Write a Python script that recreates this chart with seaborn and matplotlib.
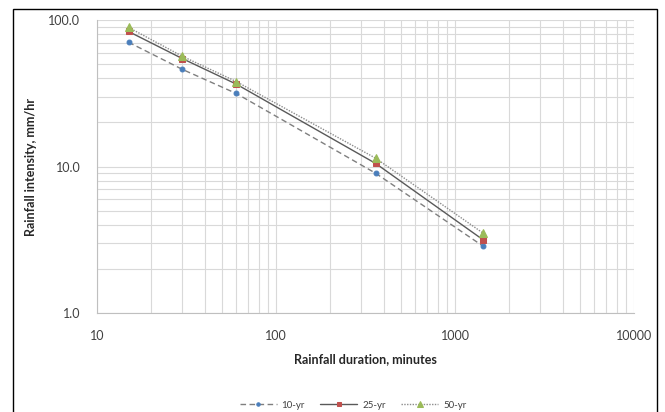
import matplotlib
matplotlib.use("Agg")
import matplotlib.pyplot as plt
from matplotlib.patches import Rectangle
from matplotlib.ticker import FixedLocator, LogLocator, NullFormatter, FuncFormatter
import seaborn as sns
import pandas as pd

durations = [15, 30, 60, 360, 1440]
i10 = [70.5, 46.0, 31.5, 9.0, 2.85]
i25 = [83.5, 54.5, 36.5, 10.5, 3.15]
i50 = [89.0, 56.5, 38.0, 11.4, 3.5]
series_names = ["10-yr", "25-yr", "50-yr"]

sns.set_style("white")
plt.rcParams['font.family'] = ['Lato', 'DejaVu Sans']

fig = plt.figure(figsize=(6.65, 4.12), dpi=100)
ax = fig.add_axes([97/665, 1-313/412, (634-97)/665, (313-20)/412])

df10 = pd.DataFrame({"x": durations, "y": i10})
df25 = pd.DataFrame({"x": durations, "y": i25})
df50 = pd.DataFrame({"x": durations, "y": i50})

sns.lineplot(data=df10, x="x", y="y", ax=ax, color="#7f7f7f", lw=1.0,
             linestyle=(0, (4, 2.5)), marker="o", markersize=3.5,
             markerfacecolor="#4a7ebb", markeredgecolor="#4a7ebb",
             label=series_names[0])
sns.lineplot(data=df25, x="x", y="y", ax=ax, color="#595959", lw=1.0,
             linestyle="-", marker="s", markersize=4.5,
             markerfacecolor="#c0504d", markeredgecolor="#c0504d",
             label=series_names[1])
sns.lineplot(data=df50, x="x", y="y", ax=ax, color="#8c8c8c", lw=1.0,
             linestyle=(0, (1, 1)), marker="^", markersize=6,
             markerfacecolor="#9bbb59", markeredgecolor="#9bbb59",
             label=series_names[2])

ax.set_xscale("log")
ax.set_yscale("log")
ax.set_xlim(10, 10000)
ax.set_ylim(1, 100)

ax.xaxis.set_major_locator(FixedLocator([10, 100, 1000, 10000]))
ax.xaxis.set_minor_locator(LogLocator(base=10, subs=range(2, 10), numticks=20))
ax.yaxis.set_major_locator(FixedLocator([1, 10, 100]))
ax.yaxis.set_minor_locator(LogLocator(base=10, subs=range(2, 10), numticks=20))
ax.xaxis.set_major_formatter(FuncFormatter(lambda v, p: f"{v:.0f}"))
ax.yaxis.set_major_formatter(FuncFormatter(lambda v, p: f"{v:.1f}"))
ax.xaxis.set_minor_formatter(NullFormatter())
ax.yaxis.set_minor_formatter(NullFormatter())

ax.grid(which="both", color="#d9d9d9", lw=0.8)
ax.set_axisbelow(True)
for s in ["top", "right"]:
    ax.spines[s].set_visible(False)
for s in ["left", "bottom"]:
    ax.spines[s].set_color("#bfbfbf")
    ax.spines[s].set_linewidth(0.8)
ax.tick_params(which="major", length=4, color="#bfbfbf", labelsize=9,
               labelcolor="#404040", pad=8)
ax.tick_params(which="minor", length=0)

ax.set_xlabel("Rainfall duration, minutes", fontsize=9, fontweight="bold",
              color="#262626", labelpad=8)
ax.set_ylabel("Rainfall intensity, mm/hr", fontsize=9, fontweight="bold",
              color="#262626", labelpad=8)

ax.legend(loc="center", bbox_to_anchor=(353/665, 1-405/412), bbox_transform=fig.transFigure,
          ncol=3, frameon=False, fontsize=7, handlelength=3.8, handletextpad=0.5,
          columnspacing=1.6, markerscale=0.7, labelcolor="#404040",
          borderaxespad=0, borderpad=0)

fig.patches.append(Rectangle((13/665, -0.05), (657-13)/665, 1.05-9/412,
                             transform=fig.transFigure, fill=False,
                             edgecolor="black", lw=1.0))

fig.savefig("out.png", dpi=100)
